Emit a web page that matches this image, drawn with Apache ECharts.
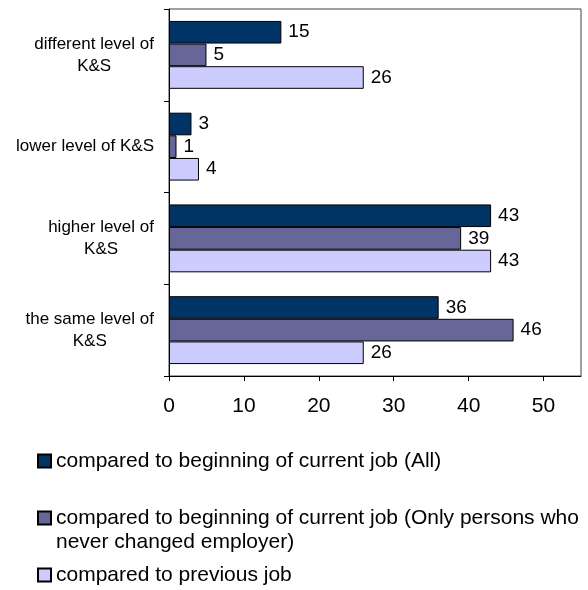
<!DOCTYPE html>
<html>
<head>
<meta charset="utf-8">
<script src="https://cdn.jsdelivr.net/npm/echarts@6/dist/echarts.min.js"></script>
<style>
  html, body { margin: 0; padding: 0; background: #ffffff; }
  #chart { width: 588px; height: 590px; }
</style>
</head>
<body>
<div id="chart"></div>
<script>
// Categories, listed top to bottom
const categories = [
  'different level of\nK&S',
  'lower level of K&S',
  'higher level of\nK&S',
  'the same level of\nK&S'
];

// Series names (legend text)
const nameAll = 'compared to beginning of current job (All)';
const nameStayers = 'compared to beginning of current job (Only persons who\nnever changed employer)';
const namePrevious = 'compared to previous job';

// Values per category, in the same order as categories
const valuesAll = [15, 3, 43, 36];
const valuesStayers = [5, 1, 39, 46];
const valuesPrevious = [26, 4, 43, 26];

// Value axis ticks
const xTickLabels = [0, 10, 20, 30, 40, 50];
const xMax = 55;

const FONT = 'Liberation Sans, Arial, sans-serif';

const chart = echarts.init(document.getElementById('chart'), null, { renderer: 'canvas' });

function barSeries(name, data, color) {
  return {
    type: 'bar',
    name: name,
    data: data,
    barGap: '0%',
    barCategoryGap: '26%',
    itemStyle: { color: color, borderColor: '#000000', borderWidth: 1 },
    label: {
      show: true,
      position: 'right',
      distance: 7,
      color: '#000000',
      fontFamily: FONT,
      fontSize: 19
    },
    emphasis: { disabled: true },
    animation: false
  };
}

function legendFor(name, top, formatter) {
  const lg = {
    data: [name],
    left: 32,
    top: top,
    orient: 'vertical',
    icon: 'rect',
    itemWidth: 13,
    itemHeight: 13,
    selectedMode: false,
    textStyle: { color: '#000000', fontFamily: FONT, fontSize: 21, lineHeight: 24 }
  };
  if (formatter) lg.formatter = formatter;
  return lg;
}

const option = {
  backgroundColor: '#ffffff',
  animation: false,
  tooltip: { show: false },
  grid: {
    left: 169,
    right: 7,
    top: 9,
    bottom: 214,
    show: true,
    borderColor: '#404040',
    borderWidth: 1
  },
  xAxis: {
    type: 'value',
    min: 0,
    max: xMax,
    interval: xTickLabels[1] - xTickLabels[0],
    splitLine: { show: false },
    axisLine: { show: true, onZero: false, lineStyle: { color: '#000000', width: 1 } },
    axisTick: { show: true, length: 5, lineStyle: { color: '#000000' } },
    axisLabel: {
      showMaxLabel: false,
      margin: 20,
      color: '#000000',
      fontFamily: FONT,
      fontSize: 21,
      formatter: function (v) { return xTickLabels.indexOf(v) >= 0 ? String(v) : ''; }
    }
  },
  yAxis: {
    type: 'category',
    data: categories,
    inverse: true,
    axisLine: { show: true, onZero: false, lineStyle: { color: '#000000', width: 1 } },
    axisTick: { show: true, length: 5, lineStyle: { color: '#000000' } },
    axisLabel: {
      margin: 15,
      color: '#000000',
      fontFamily: FONT,
      fontSize: 17,
      lineHeight: 22,
      formatter: function (v) {
        return v.split('\n').map(function (line) { return '{c|' + line + '}'; }).join('\n');
      },
      rich: {
        c: { align: 'center', fontFamily: FONT, fontSize: 17, lineHeight: 22, color: '#000000' }
      }
    }
  },
  legend: [
    legendFor(nameAll, 444),
    legendFor(nameStayers, 477, function (n) { return '\n' + n; }),
    legendFor(namePrevious, 558)
  ],
  series: [
    barSeries(nameAll, valuesAll, '#003366'),
    barSeries(nameStayers, valuesStayers, '#666699'),
    barSeries(namePrevious, valuesPrevious, '#CCCCFF')
  ]
};

chart.setOption(option);
</script>
</body>
</html>
